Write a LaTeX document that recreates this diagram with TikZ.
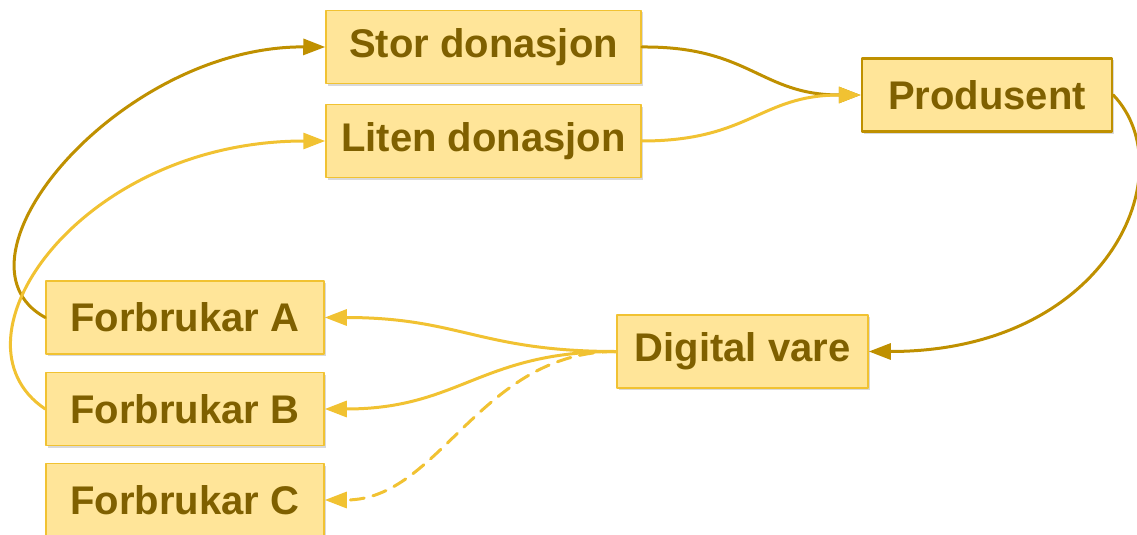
\documentclass[tikz,border=0pt]{standalone}
\usepackage{fontspec}
\setmainfont{Liberation Sans}
\usetikzlibrary{arrows.meta,shadows}
\definecolor{boxfill}{HTML}{FFE599}
\definecolor{boxline}{HTML}{F1C232}
\definecolor{boxtext}{HTML}{7F6000}
\definecolor{darkgold}{HTML}{BF9000}
\begin{document}
\begin{tikzpicture}[x=1pt,y=-1pt,line join=round,line cap=round,
	>={Triangle[length=22pt,width=16pt]},
	box/.style={draw=boxline,line width=1.5pt,fill=boxfill,text=boxtext,
		font=\fontsize{40}{48}\selectfont\bfseries,inner sep=0pt,
		minimum height=73pt,
		drop shadow={shadow xshift=1.5pt,shadow yshift=-2pt,opacity=.3}},
	dark/.style={draw=darkgold,line width=3pt,->},
	light/.style={draw=boxline,line width=3pt,->}]
	\useasboundingbox (0,0) rectangle (1137,535);
	\node[box,minimum width=315pt] (stor) at (483.5,47) {Stor donasjon};
	\node[box,minimum width=315pt] (liten) at (483.5,141) {Liten donasjon};
	\node[box,minimum width=250pt,draw=darkgold,line width=2.5pt] (prod) at (987,95) {Produsent};
	\node[box,minimum width=251pt] (vare) at (742.5,351.5) {Digital vare};
	\node[box,minimum width=278pt] (fa) at (185,317.5) {Forbrukar A};
	\node[box,minimum width=278pt] (fb) at (185,409) {Forbrukar B};
	\node[box,minimum width=278pt] (fc) at (185,500) {Forbrukar C};
	% donasjonar
	\draw[dark] (fa.west) .. controls (-60,260) and (120,46) .. (stor.west);
	\draw[light] (fb.west) .. controls (-58,340) and (80,141) .. (liten.west);
	\draw[dark] (stor.east) .. controls (750,46) and (760,95) .. (prod.west);
	\draw[light] (liten.east) .. controls (750,141) and (760,95) .. (prod.west);
	% vare
	\draw[dark] (prod.east) .. controls (1185,170) and (1110,351.5) .. (vare.east);
	\draw[light] (vare.west) .. controls (480,351.5) and (460,317.5) .. (fa.east);
	\draw[light] (vare.west) .. controls (480,351.5) and (460,409) .. (fb.east);
	\draw[light,dash pattern=on 14pt off 9pt] (vare.west) .. controls (480,351.5) and (440,500) .. (fc.east);
\end{tikzpicture}
\end{document}
